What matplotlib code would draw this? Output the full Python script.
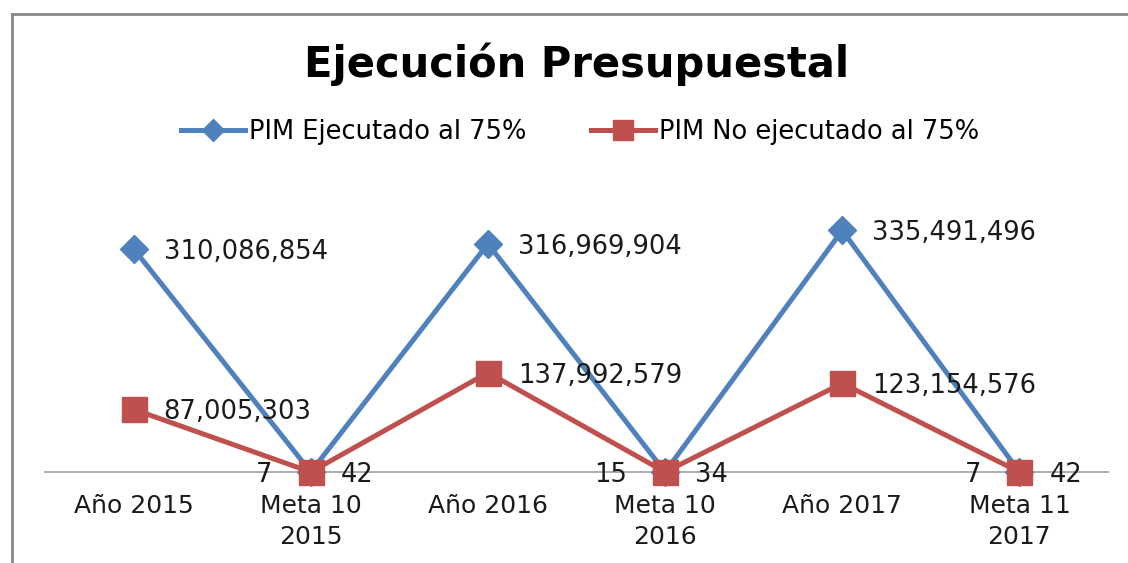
import matplotlib.pyplot as plt
from matplotlib.lines import Line2D

categories = ["Año 2015", "Meta 10\n2015", "Año 2016", "Meta 10\n2016", "Año 2017", "Meta 11\n2017"]
ejecutado = [310086854, 7, 316969904, 15, 335491496, 7]
no_ejecutado = [87005303, 42, 137992579, 34, 123154576, 42]

BLUE = "#4F81BD"
RED = "#C0504D"

plt.rcParams['font.family'] = ['DejaVu Sans']

fig = plt.figure(figsize=(11.28, 5.63), dpi=100)
ax = fig.add_axes([45 / 1128, 91 / 563, 1063 / 1128, 252 / 563])

x = list(range(len(categories)))
ax.plot(x, ejecutado, color=BLUE, lw=3.6, marker="D", ms=14, mec=BLUE, mfc=BLUE,
        label="PIM Ejecutado al 75%", clip_on=False, zorder=3)
ax.plot(x, no_ejecutado, color=RED, lw=3.6, marker="s", ms=18, mec=RED, mfc=RED,
        label="PIM No ejecutado al 75%", clip_on=False, zorder=4)

ax.set_xlim(-0.5, len(categories) - 0.5)
ax.set_ylim(0, 350e6)

for i, v in enumerate(ejecutado):
    if v > 1000:
        ax.annotate(f"{v:,}", (i, v), xytext=(30, -3), textcoords="offset pixels",
                    ha="left", va="center", fontsize=18.5, color="#1a1a1a")
    else:
        ax.annotate(f"{v:,}", (i, v), xytext=(-38, -3), textcoords="offset pixels",
                    ha="right", va="center", fontsize=18.5, color="#1a1a1a")
for i, v in enumerate(no_ejecutado):
    ax.annotate(f"{v:,}", (i, v), xytext=(30, -3), textcoords="offset pixels",
                ha="left", va="center", fontsize=18.5, color="#1a1a1a")

for s in ["top", "right", "left"]:
    ax.spines[s].set_visible(False)
ax.spines["bottom"].set_color("#a0a0a0")
ax.spines["bottom"].set_linewidth(1.2)
ax.set_yticks([])
ax.set_xticks(x)
ax.set_xticklabels(categories, fontsize=18, color="#1a1a1a", linespacing=1.36)
ax.tick_params(axis="x", length=0, pad=16)

fig.text(577 / 1128, 1 - 64 / 563, "Ejecución Presupuestal", ha="center", va="center",
         fontsize=30, fontweight="bold")

handles = [Line2D([], [], color=BLUE, lw=3.6, marker="D", ms=11),
           Line2D([], [], color=RED, lw=3.6, marker="s", ms=14)]
fig.legend(handles, ["PIM Ejecutado al 75%", "PIM No ejecutado al 75%"],
           loc="center", bbox_to_anchor=(580 / 1128, 1 - 132 / 563), ncol=2,
           frameon=False, fontsize=18.5, handlelength=2.5, handletextpad=0.15,
           columnspacing=2.5)

# chart border (only top and left visible in the crop)
fig.add_artist(Line2D([12 / 1128, 12 / 1128], [0, 1 - 14 / 563], color="#888888", lw=2))
fig.add_artist(Line2D([12 / 1128, 1], [1 - 14 / 563, 1 - 14 / 563], color="#888888", lw=2))

fig.savefig("out.png", dpi=100)
